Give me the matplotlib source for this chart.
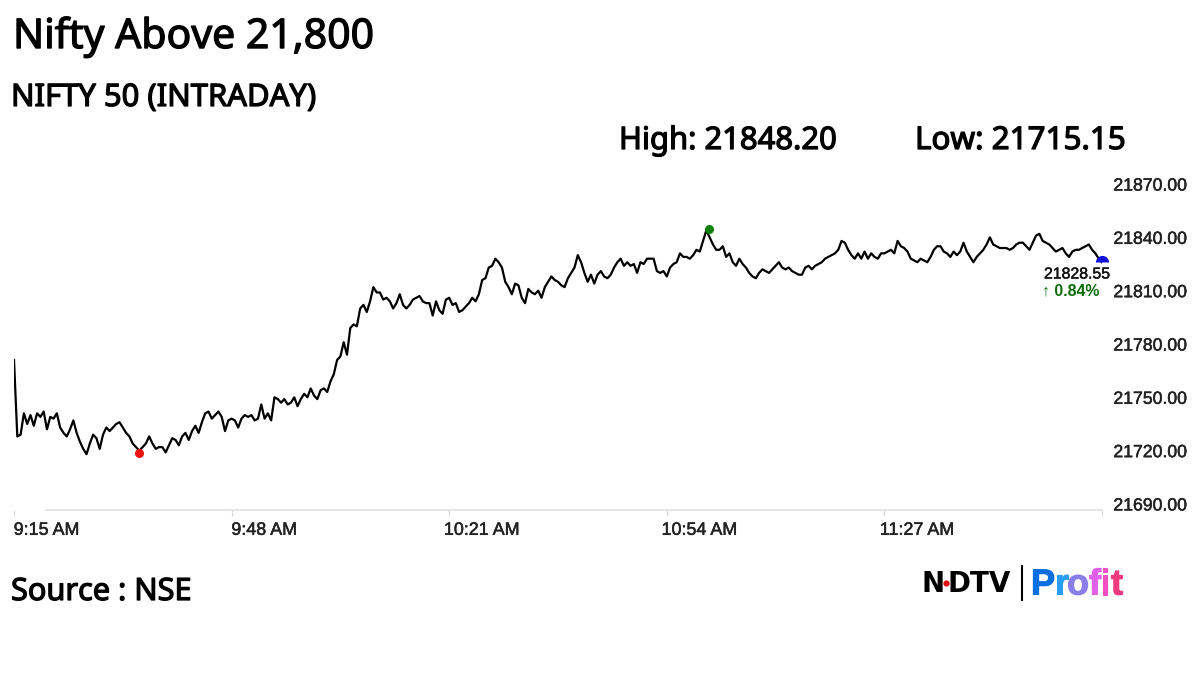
import matplotlib
matplotlib.use("Agg")
import matplotlib.pyplot as plt
import matplotlib.patheffects as pe
from matplotlib.transforms import ScaledTranslation
import numpy as np

W, H = 1200, 675

# nifty prints, one every half minute from 9:15
PRICES = [
    21771, 21728, 21729, 21741, 21735, 21740, 21734, 21741, 21739, 21742,
    21732, 21739, 21738, 21741, 21733, 21730, 21728, 21732, 21737, 21730,
    21725, 21721, 21718, 21724, 21729, 21727, 21721, 21729, 21733, 21731,
    21733, 21735, 21736, 21733, 21730, 21728, 21724, 21722, 21720, 21722,
    21724, 21728, 21724, 21721, 21722, 21722, 21719, 21723, 21727, 21726,
    21723, 21728, 21730, 21726, 21731, 21734, 21730, 21736, 21741, 21742,
    21738, 21740, 21742, 21739, 21731, 21737, 21738, 21737, 21733, 21738,
    21740, 21739, 21740, 21737, 21738, 21746, 21738, 21741, 21737, 21750,
    21749, 21747, 21749, 21746, 21747, 21750, 21745, 21749, 21752, 21750,
    21755, 21751, 21749, 21754, 21755, 21753, 21759, 21763, 21771, 21773,
    21781, 21774, 21789, 21791, 21790, 21800, 21802, 21798, 21804, 21812,
    21809, 21809, 21805, 21806, 21804, 21800, 21803, 21808, 21802, 21800,
    21802, 21805, 21806, 21807, 21804, 21803, 21803, 21796, 21804, 21799,
    21797, 21805, 21806, 21802, 21803, 21798, 21799, 21801, 21803, 21806,
    21804, 21808, 21816, 21817, 21823, 21824, 21828, 21826, 21823, 21815,
    21812, 21808, 21814, 21813, 21806, 21803, 21811, 21809, 21808, 21810,
    21806, 21812, 21815, 21818, 21816, 21815, 21813, 21812, 21817, 21820,
    21823, 21830, 21826, 21820, 21815, 21819, 21814, 21819, 21821, 21818,
    21817, 21819, 21823, 21826, 21828, 21824, 21826, 21824, 21825, 21820,
    21826, 21825, 21828, 21828, 21828, 21821, 21820, 21821, 21818, 21823,
    21825, 21826, 21831, 21829, 21829, 21828, 21830, 21833, 21832, 21838,
    21844, 21840, 21836, 21833, 21833, 21835, 21829, 21831, 21826, 21824,
    21828, 21825, 21823, 21820, 21818, 21817, 21820, 21822, 21821, 21820,
    21822, 21824, 21826, 21823, 21822, 21823, 21821, 21820, 21819, 21819,
    21823, 21824, 21822, 21824, 21825, 21826, 21828, 21829, 21830, 21831,
    21833, 21838, 21837, 21833, 21830, 21828, 21831, 21828, 21832, 21828,
    21831, 21829, 21828, 21831, 21831, 21832, 21833, 21831, 21838, 21835,
    21834, 21832, 21828, 21827, 21826, 21828, 21827, 21826, 21829, 21833,
    21835, 21835, 21832, 21831, 21829, 21832, 21830, 21832, 21837, 21832,
    21829, 21826, 21829, 21831, 21833, 21836, 21840, 21836, 21835, 21834,
    21834, 21834, 21833, 21834, 21836, 21837, 21837, 21835, 21833, 21837,
    21841, 21842, 21838, 21837, 21836, 21834, 21832, 21833, 21834, 21831,
    21829, 21832, 21833, 21833, 21834, 21835, 21836, 21833, 21831, 21828,
    21826,
]
MINUTES = np.arange(len(PRICES)) * 0.5

LOW_AT, LOW_DOT = 18.9, 21718.7
HIGH_AT, HIGH_DOT = 105.4, 21844.7
LAST_AT, LAST_DOT = 165.0, 21826

X_TICKS = [0, 33, 66, 99, 132, 165]
X_LABELS = ["9:15 AM", "9:48 AM", "10:21 AM", "10:54 AM", "11:27 AM", ""]
Y_TICKS = [21690, 21720, 21750, 21780, 21810, 21840, 21870]
Y_LABELS = ["21690.00", "21720.00", "21750.00", "21780.00", "21810.00", "21840.00", "21870.00"]

SANS = ["Liberation Sans", "DejaVu Sans"]
HEAD = "Noto Sans"
# no semibold cut installed, so thicken the regular one a bit
SEMI = [pe.withStroke(linewidth=0.9, foreground="black")]
THIN = [pe.withStroke(linewidth=0.35, foreground="#222222")]


def put(px, py, s, **kw):
    """text placed in reference pixels"""
    kw.setdefault("va", "center")
    return fig.text(px / W, 1 - py / H, s, **kw)


fig = plt.figure(figsize=(12, 6.75), dpi=100, facecolor="white")
ax = fig.add_axes([14 / W, 1 - 510 / H, (1102 - 14) / W, (510 - 170) / H])
ax.set_xlim(0, 165)
ax.set_ylim(21686.6, 21877.9)

ax.plot(MINUTES, PRICES, color="black", lw=1.6, solid_joinstyle="round", zorder=3)
ax.plot(LOW_AT, LOW_DOT, "o", color="#ee1111", ms=6.5, mew=0, zorder=4)
ax.plot(HIGH_AT, HIGH_DOT, "o", color="#0b800b", ms=6.5, mew=0, zorder=4)
ax.plot(LAST_AT, LAST_DOT, "o", color="#1111dd", ms=9.5, mew=0, fillstyle="top",
        markerfacecoloralt="none", zorder=4, clip_on=False)

for side in ("top", "left", "right"):
    ax.spines[side].set_visible(False)
ax.spines["bottom"].set_color("#e0e0e0")
ax.spines["bottom"].set_linewidth(1.2)
ax.spines["bottom"].set_bounds(4.9, 165)

ax.set_xticks(X_TICKS, X_LABELS, fontfamily=SANS, fontsize=12.9, color="#222222")
ax.tick_params(axis="x", length=4.5, width=0.8, color="#d8d8d8", pad=4)
# labels sit to the right of their tick, not under it
shift = ScaledTranslation(32.5 / 100, 0, fig.dpi_scale_trans)
for lab in ax.get_xticklabels():
    lab.set_transform(lab.get_transform() + shift)
    lab.set_path_effects(THIN)

ax.yaxis.tick_right()
ax.set_yticks(Y_TICKS, Y_LABELS, fontfamily=SANS, fontsize=12.7, color="#222222")
ax.tick_params(axis="y", length=0, pad=8.2)
for lab in ax.get_yticklabels():
    lab.set_path_effects(THIN)

put(13, 37, "Nifty Above 21,800", family=HEAD, fontsize=29.5, color="black", path_effects=SEMI)
put(11, 98, "NIFTY 50 (INTRADAY)", family=HEAD, fontsize=22.3, color="black", path_effects=SEMI)
put(619, 141, "High: 21848.20", family=HEAD, fontsize=22.3, color="black", path_effects=SEMI)
put(915, 141, "Low: 21715.15", family=HEAD, fontsize=22.6, color="black", path_effects=SEMI)
put(11, 592, "Source : NSE", family=HEAD, fontsize=22.1, color="black", path_effects=SEMI)

put(1044, 274, "21828.55", family=SANS, fontsize=11.4, color="#111111", path_effects=THIN)
put(1042, 291, "\u2191 0.84%", family=SANS, fontsize=11.4, weight="bold", color="#0b6b0b")

# logo
put(922, 584, "N", family="DejaVu Sans", weight="bold", fontsize=20, color="black")
put(948, 584, "DTV", family="DejaVu Sans", weight="bold", fontsize=20, color="black")
fig.add_artist(plt.Line2D([946 / W], [1 - 583 / H], marker="o", ms=4.5, mew=0, color="#e01010"))
fig.add_artist(plt.Line2D([1022 / W, 1022 / W], [1 - 566 / H, 1 - 600 / H], color="black", lw=1.5))
profit = [("P", 1031, "#0a6fe0"), ("r", 1055, "#2a9df0"), ("o", 1067, "#8a7fe8"),
          ("f", 1089, "#e060e8"), ("i", 1100, "#f050c0"), ("t", 1111, "#f03a80")]
for ch, px, col in profit:
    put(px, 585, ch, family="Liberation Sans", weight="bold", fontsize=26, color=col,
        path_effects=[pe.withStroke(linewidth=0.8, foreground=col)])

fig.savefig("out.png", dpi=100)
